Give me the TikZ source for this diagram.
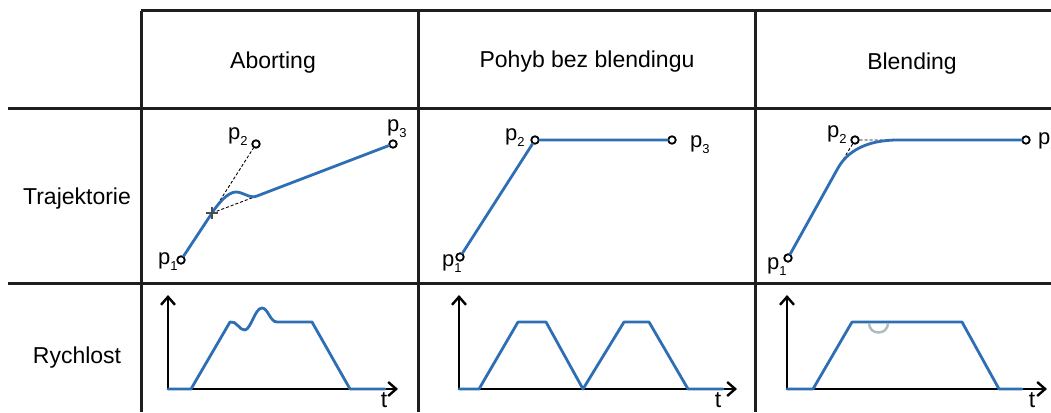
\documentclass[tikz,border=0pt]{standalone}
\usepackage{fontspec}
\setmainfont{Liberation Sans}
\usetikzlibrary{arrows.meta}
\definecolor{traj}{RGB}{46,110,180}
\definecolor{gridc}{RGB}{30,30,30}
\definecolor{ghost}{RGB}{170,188,192}
\newcommand{\plab}[1]{{\fontsize{22}{22}\selectfont p}\raisebox{-6pt}{\fontsize{13}{13}\selectfont #1}}
\begin{document}
\begin{tikzpicture}[x=1pt,y=-1pt,
  gridline/.style={draw=gridc,line width=3pt},
  head/.style={font=\fontsize{23}{27}\selectfont,anchor=base,inner sep=0pt},
  pt/.style={circle,draw=black,fill=white,line width=1.8pt,minimum size=7.5pt,inner sep=0pt},
  plabel/.style={anchor=base west,inner sep=0pt},
  trajline/.style={draw=traj,line width=2.8pt,line join=round,line cap=round},
  helper/.style={draw=black,densely dashed,line width=0.9pt},
  axes/.style={draw=black,line width=2.4pt,{Straight Barb[length=8pt,width=14pt]}-{Straight Barb[length=8pt,width=14pt]}},
  ghostarc/.style={draw=ghost,line width=2.4pt}]
\useasboundingbox (0,0) rectangle (1051,412);
\clip (0,0) rectangle (1051,412);

% grid
\draw[gridline] (141,11) -- (1051,11);
\draw[gridline] (8,108) -- (1051,108);
\draw[gridline] (8,283) -- (1051,283);
\draw[gridline] (141,11) -- (141,412);
\draw[gridline] (418,11) -- (418,412);
\draw[gridline] (755,11) -- (755,412);

% headers
\node[head] (hA) at (273,68) {Aborting};
\node[head] (hP) at (587,67) {Pohyb bez blendingu};
\node[head] (hB) at (912,70) {Blending};
\node[head] (rT) at (77,204) {Trajektorie};
\node[head] (rR) at (77,363) {Rychlost};

% ---- Aborting trajectory
\node[pt] (a1) at (181,260) {};
\node[pt] (a2) at (256,144) {};
\node[pt] (a3) at (393,144) {};
\coordinate (ax) at (212,213);
\coordinate (aj) at (257,196);
\draw[helper] (ax) -- (a2);
\draw[helper] (ax) -- (aj);
\draw[trajline] (a1) -- (ax) .. controls (218.5,203) and (228,192) .. (236,192)
   .. controls (243,192) and (250,199) .. (aj) -- (a3);
\draw[draw=gridc!80,line width=1.1pt] ([xshift=-6pt]ax) -- ([xshift=6pt]ax)
   ([yshift=-6pt]ax) -- ([yshift=6pt]ax);
\node[plabel] (la1) at (158,264) {\plab{1}};
\node[plabel] (la2) at (228,139) {\plab{2}};
\node[plabel] (la3) at (387,131) {\plab{3}};

% ---- Pohyb bez blendingu trajectory
\node[pt] (n1) at (460,257) {};
\node[pt] (n2) at (535,140) {};
\node[pt] (n3) at (672,140) {};
\draw[trajline] (n1) -- (n2) -- (n3);
\node[plabel] (ln1) at (442,266) {\plab{1}};
\node[plabel] (ln2) at (505,140) {\plab{2}};
\node[plabel] (ln3) at (690,147) {\plab{3}};

% ---- Blending trajectory
\node[pt] (b1) at (788,258) {};
\node[pt] (b2) at (855,140) {};
\node[pt] (b3) at (1026,140) {};
\coordinate (bs) at (838,168);
\coordinate (be) at (898,140);
\draw[helper] (bs) -- (b2) -- (be);
\draw[trajline] (b1) -- (bs) .. controls (847.3,151.5) and (866,140) .. (be) -- (b3);
\node[plabel] (lb1) at (767,269) {\plab{1}};
\node[plabel] (lb2) at (827,137) {\plab{2}};
\node[plabel] (lb3) at (1038,144) {\plab{3}};

% ---- velocity: Aborting
\draw[axes] (168,295) -- (168,389) -- (398,389);
\draw[trajline] (168,389) -- (191,389) -- (230,322)
   .. controls (236,320) and (240,331) .. (245,330)
   .. controls (251,329) and (255,308) .. (262,308)
   .. controls (268,308) and (270,322) .. (277,322)
   -- (312,322) -- (350,389) -- (385,389);
\node[head] (ta) at (384,407) {t};

% ---- velocity: Pohyb bez blendingu
\draw[axes] (459,295) -- (459,389) -- (737,389);
\draw[trajline] (459,389) -- (479,389) -- (518,322) -- (546,322) -- (583,389)
   -- (624,322) -- (649,322) -- (688,389) -- (723,389);
\node[head] (tn) at (718,407) {t};

% ---- velocity: Blending
\draw[axes] (787,295) -- (787,389) -- (1047,389);
\draw[trajline] (787,389) -- (813,389) -- (852,322) -- (962,322) -- (999,389) -- (1022,389);
\draw[ghostarc] (869,323) .. controls (869,335.7) and (888,335.7) .. (888,323);
\node[head] (tb) at (1032,407) {t};
\end{tikzpicture}
\end{document}
